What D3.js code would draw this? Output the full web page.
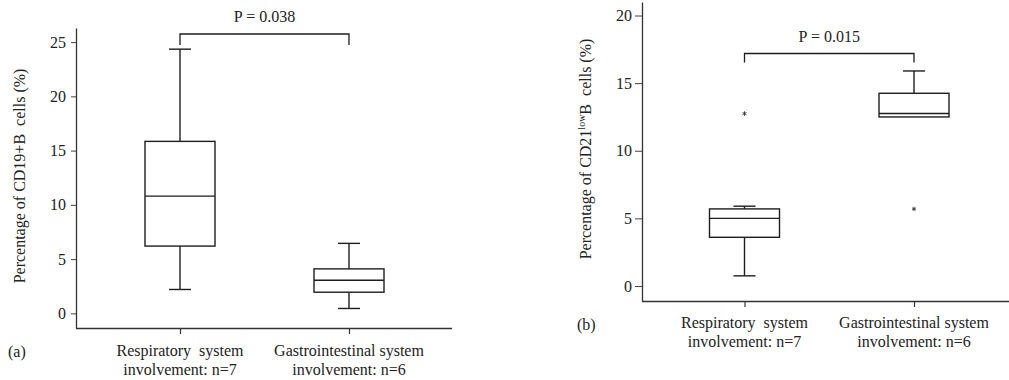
<!DOCTYPE html>
<html>
<head>
<meta charset="utf-8">
<script src="https://cdn.jsdelivr.net/npm/d3@7"></script>
<style>
  html, body { margin: 0; padding: 0; background: #fff; }
  svg { display: block; }
  text { font-family: "Liberation Serif", "Times New Roman", serif; fill: #222; white-space: pre; }
</style>
</head>
<body>
<svg id="chart" width="1009" height="380"></svg>
<script>
// Group labels (two lines each)
const groupLine1 = ["Respiratory  system", "Gastrointestinal system"];
const groupLine2 = ["involvement: n=7", "involvement: n=6"];
const groupKeys = ["resp", "gi"];

// Panel (a): CD19+ B cells (%) — whisker low, Q1, median, Q3, whisker high
const cd19Low    = [2.2, 0.45];
const cd19Q1     = [6.2, 1.95];
const cd19Median = [10.8, 3.05];
const cd19Q3     = [15.85, 4.1];
const cd19High   = [24.35, 6.45];
const cd19Outliers = [[], []];
const cd19Ticks  = [0, 5, 10, 15, 20, 25];
const cd19P = "P = 0.038";

// Panel (b): CD21low B cells (%)
const cd21Low    = [0.75, 12.5];
const cd21Q1     = [3.6, 12.5];
const cd21Median = [5.0, 12.75];
const cd21Q3     = [5.7, 14.25];
const cd21High   = [5.9, 15.9];
const cd21Outliers = [[12.75], [5.7]];
const cd21Ticks  = [0, 5, 10, 15, 20];
const cd21P = "P = 0.015";

const svg = d3.select("#chart");
const ink = "#1e1e1e";
const fs = 16;

function boxRows(low, q1, med, q3, high, outl) {
  return groupKeys.map((k, i) => ({ key: k, low: low[i], q1: q1[i], med: med[i], q3: q3[i], high: high[i], out: outl[i] }));
}

function panel(cfg) {
  const g = svg.append("g");
  const y = d3.scaleLinear().domain(cfg.yDomain).range([cfg.bottom, cfg.top]);
  const x = d3.scalePoint().domain(groupKeys).range(cfg.centers);

  // y axis
  const yAxis = g.append("g")
    .attr("transform", `translate(${cfg.left},0)`)
    .call(d3.axisLeft(y).tickValues(cfg.ticks).tickSize(cfg.tickLen).tickPadding(cfg.tickPad).tickSizeOuter(0));
  yAxis.select(".domain").attr("stroke", "#333").attr("stroke-width", 1.3);
  yAxis.selectAll(".tick line").attr("stroke", "#444");
  yAxis.selectAll(".tick text").attr("font-size", fs).attr("font-family", "Liberation Serif").attr("fill", "#222");

  // x axis
  const xAxis = g.append("g")
    .attr("transform", `translate(0,${cfg.bottom})`)
    .call(d3.axisBottom(x).tickSize(6).tickFormat("").tickSizeOuter(0));
  xAxis.select(".domain").attr("d", `M${cfg.left},0.5H${cfg.right}`).attr("stroke", "#333").attr("stroke-width", 1.3);
  xAxis.selectAll(".tick line").attr("stroke", "#333").attr("stroke-width", 1.2);

  // group labels
  groupKeys.forEach((k, i) => {
    const t = g.append("text").attr("text-anchor", "middle").attr("font-size", fs);
    t.append("tspan").attr("x", x(k)).attr("y", cfg.labelY1).text(groupLine1[i]);
    t.append("tspan").attr("x", x(k)).attr("y", cfg.labelY2).text(groupLine2[i]);
  });

  // boxes
  const rows = cfg.rows;
  const bw = 70, cw = 22;
  const bg = g.append("g").attr("stroke", ink).attr("stroke-width", 1.4).attr("fill", "none");
  const b = bg.selectAll("g.box").data(rows).join("g").attr("class", "box");
  b.filter(d => d.high > d.q3).append("line")
    .attr("x1", d => x(d.key)).attr("x2", d => x(d.key))
    .attr("y1", d => y(d.q3)).attr("y2", d => y(d.high));
  b.filter(d => d.high > d.q3).append("line")
    .attr("x1", d => x(d.key) - cw / 2).attr("x2", d => x(d.key) + cw / 2)
    .attr("y1", d => y(d.high)).attr("y2", d => y(d.high));
  b.filter(d => d.low < d.q1).append("line")
    .attr("x1", d => x(d.key)).attr("x2", d => x(d.key))
    .attr("y1", d => y(d.q1)).attr("y2", d => y(d.low));
  b.filter(d => d.low < d.q1).append("line")
    .attr("x1", d => x(d.key) - cw / 2).attr("x2", d => x(d.key) + cw / 2)
    .attr("y1", d => y(d.low)).attr("y2", d => y(d.low));
  b.append("rect")
    .attr("x", d => x(d.key) - bw / 2).attr("width", bw)
    .attr("y", d => y(d.q3)).attr("height", d => y(d.q1) - y(d.q3))
    .attr("fill", "#fff");
  b.append("line")
    .attr("x1", d => x(d.key) - bw / 2).attr("x2", d => x(d.key) + bw / 2)
    .attr("y1", d => y(d.med)).attr("y2", d => y(d.med));

  // outliers as small asterisks
  const star = d3.symbol().type(d3.symbolAsterisk).size(14);
  rows.forEach(d => d.out.forEach(v => {
    g.append("path").attr("d", star()).attr("transform", `translate(${x(d.key)},${y(v)})`)
      .attr("stroke", "#333").attr("stroke-width", 0.9).attr("fill", "none");
  }));

  // significance bracket
  const x0 = x(groupKeys[0]), x1 = x(groupKeys[1]);
  g.append("path")
    .attr("d", `M${x0},${cfg.bracketY + cfg.bracketDrop}V${cfg.bracketY}H${x1}V${cfg.bracketY + cfg.bracketDrop}`)
    .attr("fill", "none").attr("stroke", ink).attr("stroke-width", 1.3);
  g.append("text").attr("x", (x0 + x1) / 2).attr("y", cfg.pY)
    .attr("text-anchor", "middle").attr("font-size", fs).text(cfg.pText);

  // y label
  const yl = g.append("text").attr("transform", `translate(${cfg.yLabelX},${cfg.yLabelY}) rotate(-90)`)
    .attr("text-anchor", "middle").attr("font-size", fs);
  cfg.yLabel(yl);

  // panel tag
  g.append("text").attr("x", cfg.tagX).attr("y", cfg.tagY).attr("font-size", fs).text(cfg.tag);
}

panel({
  left: 76, right: 452, top: 28, bottom: 328,
  yDomain: [-1.35, 26.3], ticks: cd19Ticks, tickLen: 5, tickPad: 5,
  centers: [180, 349],
  rows: boxRows(cd19Low, cd19Q1, cd19Median, cd19Q3, cd19High, cd19Outliers),
  labelY1: 356, labelY2: 375,
  bracketY: 34, bracketDrop: 11, pY: 22, pText: cd19P,
  yLabelX: 25, yLabelY: 176,
  yLabel: t => t.text("Percentage of CD19+B  cells (%)"),
  tag: "(a)", tagX: 8, tagY: 357
});

panel({
  left: 642, right: 1009, top: 2, bottom: 301,
  yDomain: [-1.11, 21.0], ticks: cd21Ticks, tickLen: 7, tickPad: 3,
  centers: [744.5, 914],
  rows: boxRows(cd21Low, cd21Q1, cd21Median, cd21Q3, cd21High, cd21Outliers),
  labelY1: 328, labelY2: 347,
  bracketY: 53.5, bracketDrop: 9, pY: 42, pText: cd21P,
  yLabelX: 591, yLabelY: 149,
  yLabel: t => {
    t.append("tspan").text("Percentage of CD21");
    t.append("tspan").attr("font-size", 10).attr("dy", -6).text("low");
    t.append("tspan").attr("dy", 6).text("B  cells (%)");
  },
  tag: "(b)", tagX: 577, tagY: 330
});
</script>
</body>
</html>
